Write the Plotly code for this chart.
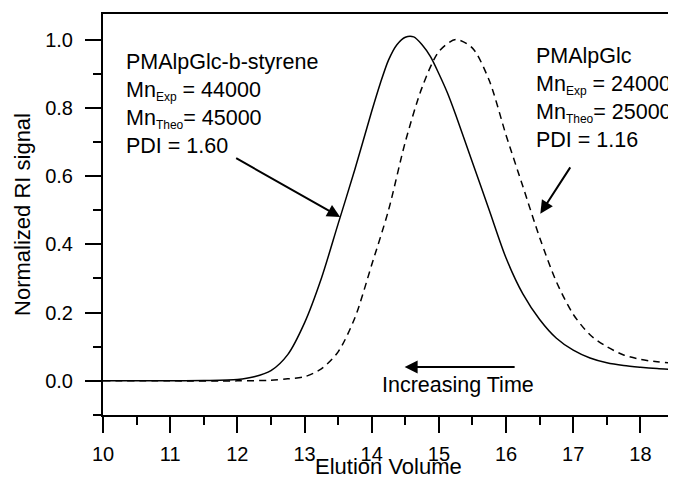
import plotly.graph_objects as go

# GPC traces (elution volume vs normalized RI signal)
vol_block = [10.0, 11.0, 11.5, 12.0, 12.25, 12.5, 12.75, 13.0, 13.25, 13.5, 13.75,
             14.0, 14.125, 14.25, 14.375, 14.5, 14.625, 14.75, 14.875, 15.0, 15.125,
             15.25, 15.5, 15.75, 16.0, 16.25, 16.5, 16.75, 17.0, 17.25, 17.5,
             17.75, 18.0, 18.25, 18.5]
ri_block = [0.0, 0.0, 0.001, 0.004, 0.012, 0.03, 0.077, 0.17, 0.30, 0.46, 0.62,
            0.79, 0.87, 0.94, 0.985, 1.007, 1.008, 0.985, 0.95, 0.90, 0.845,
            0.78, 0.64, 0.50, 0.36, 0.255, 0.18, 0.125, 0.09, 0.067, 0.053,
            0.045, 0.040, 0.036, 0.033]

vol_homo = [10.0, 11.0, 12.0, 12.5, 12.75, 13.0, 13.25, 13.5, 13.75, 14.0, 14.25,
            14.5, 14.75, 15.0, 15.25, 15.5, 15.75, 16.0, 16.25, 16.5, 16.75,
            17.0, 17.25, 17.5, 17.75, 18.0, 18.25, 18.5]
ri_homo = [0.0, 0.0, 0.0, 0.002, 0.006, 0.012, 0.035, 0.085, 0.185, 0.34, 0.50,
           0.70, 0.86, 0.965, 1.0, 0.975, 0.88, 0.72, 0.57, 0.42, 0.29,
           0.195, 0.135, 0.10, 0.076, 0.063, 0.056, 0.052]


def sub(s):
    return '<sub><span style="font-size:12px">' + s + '</span></sub>'


label_block = ("PMAlpGlc-b-styrene<br>Mn" + sub("Exp") + " = 44000<br>"
               "Mn" + sub("Theo") + "= 45000<br>PDI = 1.60")
label_homo = ("PMAlpGlc<br>Mn" + sub("Exp") + " = 24000<br>"
              "Mn" + sub("Theo") + "= 25000<br>PDI = 1.16")

FONT = "Liberation Sans, Arial, sans-serif"

fig = go.Figure()
fig.add_trace(go.Scatter(x=vol_block, y=ri_block, mode="lines",
                         line=dict(color="black", width=1.5, shape="spline", smoothing=0.8)))
fig.add_trace(go.Scatter(x=vol_homo, y=ri_homo, mode="lines",
                         line=dict(color="black", width=1.5, dash="7px,5px",
                                   shape="spline", smoothing=0.8)))

# text blocks
fig.add_annotation(x=10.31, y=0.975, xref="x", yref="y", text=label_block,
                   showarrow=False, xanchor="left", yanchor="top", align="left",
                   font=dict(size=21.5, color="black", family=FONT))
fig.add_annotation(x=16.41, y=0.993, xref="x", yref="y", text=label_homo,
                   showarrow=False, xanchor="left", yanchor="top", align="left",
                   font=dict(size=21.5, color="black", family=FONT))
fig.add_annotation(x=15.28, y=-0.012, xref="x", yref="y", text="Increasing Time",
                   showarrow=False, xanchor="center", yanchor="middle",
                   font=dict(size=21.5, color="black", family=FONT))

# x axis title, placed by hand so it sits as low as in the original
fig.add_annotation(x=0.5, y=-0.128, xref="paper", yref="paper", text="Elution Volume",
                   showarrow=False, xanchor="center", yanchor="middle",
                   font=dict(size=22, color="black", family=FONT))

# arrows
arrows = [((11.96, 0.655), (13.53, 0.48)),
          ((16.97, 0.63), (16.51, 0.49)),
          ((16.15, 0.041), (14.49, 0.041))]
for (tx, ty), (hx, hy) in arrows:
    fig.add_annotation(x=hx, y=hy, ax=tx, ay=ty, xref="x", yref="y",
                       axref="x", ayref="y", text="", showarrow=True,
                       arrowhead=2, arrowsize=1.3, arrowwidth=2, arrowcolor="black")

# page body has an 8px margin, so the figure is a bit smaller than the window
fig.update_layout(
    width=668, height=473,
    margin=dict(l=95, r=2, t=6, b=66, autoexpand=False),
    paper_bgcolor="white", plot_bgcolor="white",
    showlegend=False,
    font=dict(family=FONT, size=20, color="black"),
)
fig.update_xaxes(
    range=[10, 18.5], dtick=1, tick0=10, automargin=False,
    showgrid=False, zeroline=False,
    showline=True, linewidth=2, linecolor="black", mirror=True,
    ticks="outside", ticklen=16, tickwidth=2, tickcolor="black",
    minor=dict(dtick=0.5, ticks="outside", ticklen=8, tickwidth=2, tickcolor="black"),
    tickfont=dict(size=20), ticklabelstandoff=4,
)
fig.update_yaxes(
    range=[-0.1, 1.075], dtick=0.2, tick0=0, tickformat=".1f", automargin=False,
    showgrid=False, zeroline=False,
    showline=True, linewidth=2, linecolor="black", mirror=True,
    ticks="outside", ticklen=16, tickwidth=2, tickcolor="black",
    minor=dict(dtick=0.1, ticks="outside", ticklen=8, tickwidth=2, tickcolor="black"),
    title=dict(text="Normalized RI signal", font=dict(size=22), standoff=8),
    tickfont=dict(size=20), ticklabelstandoff=8,
)

fig.write_html("out.html")
